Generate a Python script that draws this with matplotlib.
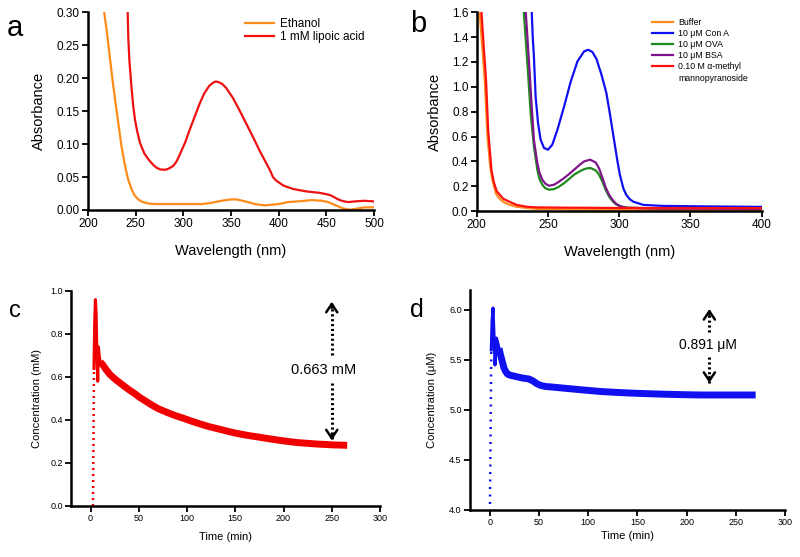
import numpy as np
import matplotlib
matplotlib.use('Agg')
import matplotlib.pyplot as plt
from matplotlib.lines import Line2D

plt.rcParams['font.family'] = ['Liberation Sans', 'DejaVu Sans']

# ---- panel a : UV spectra, ethanol vs lipoic acid
a_eth_nm = [217, 220, 224.8, 228, 231.8, 235, 238.8, 242, 245.8, 249, 252.8, 256, 259.8, 265, 270, 280, 300,
            320, 330, 340, 350, 356, 365, 375, 385, 393, 400, 410, 420, 435, 445, 452, 460, 468, 475, 482,
            490, 500]
a_eth_abs = [0.30, 0.268, 0.208, 0.172, 0.132, 0.098, 0.067, 0.047, 0.031, 0.022, 0.016, 0.013, 0.011, 0.0095,
             0.009, 0.009, 0.009, 0.009, 0.011, 0.014, 0.016, 0.016, 0.013, 0.009, 0.007, 0.008, 0.009, 0.012,
             0.013, 0.015, 0.014, 0.012, 0.007, 0.002, 0.0005, 0.002, 0.004, 0.004]
a_lip_nm = [241.6, 242.3, 243.5, 245.8, 247.5, 249.3, 251.5, 254.5, 259, 263.3, 268, 272, 276, 281, 285,
            289.5, 293, 296, 299, 301.8, 307, 312, 317, 322, 327, 331, 334, 337, 341, 345, 352, 359, 366,
            373, 380, 387, 391, 394, 397, 400, 405, 415, 422, 430, 443, 450, 455, 460, 464, 469, 473, 480,
            490, 500]
a_lip_abs = [0.30, 0.26, 0.225, 0.183, 0.157, 0.137, 0.120, 0.102, 0.086, 0.077, 0.069, 0.064, 0.0615, 0.061,
             0.063, 0.067, 0.074, 0.083, 0.093, 0.102, 0.123, 0.142, 0.161, 0.177, 0.188, 0.193, 0.195, 0.194,
             0.191, 0.185, 0.170, 0.151, 0.131, 0.111, 0.090, 0.071, 0.060, 0.050, 0.045, 0.042, 0.037,
             0.032, 0.030, 0.028, 0.026, 0.024, 0.022, 0.018, 0.015, 0.013, 0.012, 0.013, 0.014, 0.013]

# ---- panel b : protein spectra
b_buf_nm = [202, 204, 205.6, 207.5, 209.5, 211, 213.5, 216, 218.5, 222, 228, 235, 242, 260, 300, 350, 400]
b_buf_abs = [1.6, 1.3, 1.05, 0.60, 0.35, 0.25, 0.14, 0.10, 0.075, 0.055, 0.035, 0.025, 0.018, 0.015, 0.012,
             0.010, 0.010]
b_man_nm = [203.3, 205, 206.5, 208, 210.3, 212, 214, 218.5, 222, 228, 235, 242, 260, 300, 350, 400]
b_man_abs = [1.6, 1.3, 1.05, 0.65, 0.33, 0.23, 0.16, 0.10, 0.08, 0.05, 0.035, 0.03, 0.028, 0.025, 0.024, 0.024]
b_con_nm = [238.6, 239.3, 240.1, 241.3, 243, 244.8, 247.2, 250, 253, 256.6, 261.3, 266, 270.7, 275.4, 278.2,
            281.2, 284, 287.5, 291, 293.5, 296, 298.5, 300.5, 303, 305, 307.5, 310, 317, 330, 360, 400]
b_con_abs = [1.6, 1.40, 1.245, 0.923, 0.709, 0.575, 0.508, 0.494, 0.534, 0.654, 0.842, 1.044, 1.205, 1.286,
             1.298, 1.28, 1.225, 1.10, 0.95, 0.78, 0.60, 0.42, 0.29, 0.18, 0.13, 0.095, 0.075, 0.05, 0.042,
             0.038, 0.034]
b_ova_nm = [233, 236, 237.8, 240.1, 242.5, 244, 246, 248, 250.7, 254.2, 257.5, 261.3, 265, 268.3, 272, 275.4,
            278, 280, 283.6, 286, 288.3, 290.5, 293, 295.5, 297.7, 301, 305.9, 330, 400]
b_ova_abs = [1.6, 1.11, 0.79, 0.52, 0.333, 0.26, 0.212, 0.185, 0.172, 0.177, 0.195, 0.225, 0.26, 0.293, 0.318,
             0.338, 0.345, 0.346, 0.327, 0.29, 0.235, 0.17, 0.115, 0.078, 0.055, 0.038, 0.027, 0.022, 0.02]
b_bsa_nm = [234.4, 237.2, 238.5, 240.1, 242.5, 244, 246, 248, 250.7, 254.2, 257.5, 261.3, 265, 268.3, 272,
            275.4, 279.6, 283.6, 286, 288.3, 290.5, 293, 295.5, 297.7, 301, 305, 330, 400]
b_bsa_abs = [1.6, 1.1, 0.85, 0.574, 0.387, 0.31, 0.253, 0.222, 0.204, 0.212, 0.235, 0.266, 0.30, 0.333, 0.37,
             0.40, 0.414, 0.39, 0.34, 0.265, 0.19, 0.13, 0.088, 0.06, 0.037, 0.027, 0.02, 0.018]

# ---- panel c : lipoic acid concentration vs time
c_rise_t = [2.6, 3.6]
c_rise_c = [0.0, 0.64]
c_spike_t = [3.6, 4.3, 5.1, 5.8, 6.5, 7.5, 8.2, 9.0, 10.0, 11.0]
c_spike_c = [0.64, 0.85, 0.96, 0.90, 0.75, 0.58, 0.74, 0.70, 0.67, 0.66]
c_t = [10, 13, 16, 20, 26, 30, 35, 40, 45.7, 51, 57, 62.6, 70, 80, 88, 97, 105, 114, 122, 131, 140, 149, 157,
       166, 175, 183, 192, 200, 208, 217, 226, 235, 244, 252, 260, 266]
c_c = [0.67, 0.655, 0.635, 0.612, 0.588, 0.574, 0.557, 0.54, 0.523, 0.505, 0.488, 0.472, 0.453, 0.434, 0.42,
       0.407, 0.394, 0.381, 0.37, 0.36, 0.35, 0.34, 0.333, 0.326, 0.32, 0.314, 0.308, 0.303, 0.298, 0.294,
       0.291, 0.288, 0.286, 0.284, 0.283, 0.282]

# ---- panel d : Con A experiment
d_rise_t = [0.3, 1.6]
d_rise_c = [4.06, 5.6]
d_spike_t = [1.6, 2.4, 3.4, 4.2, 5.4, 6.8, 8.0, 9.4]
d_spike_c = [5.6, 5.9, 6.02, 5.8, 5.45, 5.72, 5.68, 5.617]
d_t = [9.4, 11, 12.8, 14.5, 16.2, 18, 20, 26.3, 33, 39.8, 44, 48, 52, 56.7, 65, 78.7, 95, 112.5, 130, 146,
       163, 180, 197, 214, 240, 261, 270]
d_c = [5.617, 5.55, 5.483, 5.42, 5.385, 5.36, 5.35, 5.335, 5.32, 5.31, 5.29, 5.262, 5.245, 5.235, 5.228, 5.215,
       5.2, 5.185, 5.175, 5.168, 5.162, 5.157, 5.153, 5.15, 5.15, 5.15, 5.15]


def style_ax(ax, tick_fs):
    for s in ['top', 'right']:
        ax.spines[s].set_visible(False)
    for s in ['left', 'bottom']:
        ax.spines[s].set_linewidth(1.8)
    ax.tick_params(direction='out', length=4, width=1.3, labelsize=tick_fs, pad=2)


def dotted_arrow(ax, x, y_from, y_to, head_len):
    # dotted shaft + solid open head
    ax.plot([x, x], [y_from, y_to], color='black', lw=2.2, ls=(0, (0.7, 0.9)))
    ax.annotate('', xy=(x, y_to), xytext=(x, y_to - np.sign(y_to - y_from) * head_len),
                arrowprops=dict(arrowstyle='->,head_length=0.6,head_width=0.4', color='black', lw=1.8,
                                shrinkA=0, shrinkB=0))


fig = plt.figure(figsize=(8, 5.57), dpi=100)

# panel a
ax = fig.add_axes([0.110, 0.623, 0.3575, 0.355])
ax.plot(a_eth_nm, a_eth_abs, color='#FF8C1A', lw=1.6, label='Ethanol')
ax.plot(a_lip_nm, a_lip_abs, color='#EE1111', lw=1.6, label='1 mM lipoic acid')
ax.set_xlim(200, 500)
ax.set_ylim(0, 0.30)
ax.set_xticks(np.arange(200, 501, 50))
ax.set_yticks(np.arange(0, 0.301, 0.05))
ax.yaxis.set_major_formatter(matplotlib.ticker.FormatStrFormatter('%.2f'))
style_ax(ax, 8.5)
ax.set_xlabel('Wavelength (nm)', fontsize=10.5, labelpad=10)
ax.set_ylabel('Absorbance', fontsize=10.5, labelpad=7.5)
ax.legend(loc='upper left', bbox_to_anchor=(0.53, 1.0), frameon=False, fontsize=8.5,
          handlelength=2.4, handletextpad=0.5, labelspacing=0.1, borderpad=0)

# panel b
ax = fig.add_axes([0.596, 0.621, 0.356, 0.357])
ax.plot(b_buf_nm, b_buf_abs, color='#FF8C1A', lw=1.6, label='Buffer')
ax.plot(b_con_nm, b_con_abs, color='#1010F0', lw=1.6, label='10 \u03bcM Con A')
ax.plot(b_ova_nm, b_ova_abs, color='#1E8A1E', lw=1.6, label='10 \u03bcM OVA')
ax.plot(b_bsa_nm, b_bsa_abs, color='#80148C', lw=1.6, label='10 \u03bcM BSA')
ax.plot(b_man_nm, b_man_abs, color='#FF1010', lw=1.6, label='0.10 M \u03b1-methyl')
h, l = ax.get_legend_handles_labels()
h.append(Line2D([], [], color='none'))
l.append('mannopyranoside')
ax.set_xlim(200, 400)
ax.set_ylim(0, 1.6)
ax.set_xticks(np.arange(200, 401, 50))
ax.set_yticks(np.arange(0, 1.61, 0.2))
ax.yaxis.set_major_formatter(matplotlib.ticker.FormatStrFormatter('%.1f'))
style_ax(ax, 8.5)
ax.set_xlabel('Wavelength (nm)', fontsize=10.5, labelpad=10)
ax.set_ylabel('Absorbance', fontsize=10.5, labelpad=7.5)
ax.legend(h, l, loc='upper left', bbox_to_anchor=(0.60, 0.995), frameon=False, fontsize=6.3,
          handlelength=2.4, handletextpad=0.6, labelspacing=0.25, borderpad=0)

# panel c
ax = fig.add_axes([0.089, 0.0916, 0.386, 0.386])
ax.plot(c_rise_t, c_rise_c, color='#F00000', lw=1.8, ls=(0, (0.8, 1.6)))
ax.plot(c_spike_t, c_spike_c, color='#F00000', lw=2.2)
ax.plot(c_t, c_c, color='#F00000', lw=5, solid_capstyle='butt', solid_joinstyle='round')
dotted_arrow(ax, 250, 0.70, 0.95, 0.03)
dotted_arrow(ax, 250, 0.57, 0.305, 0.03)
ax.text(242, 0.632, '0.663 mM', fontsize=10.5, ha='center', va='center')
ax.set_xlim(-20, 300)
ax.set_ylim(0, 1.0)
ax.set_xticks(np.arange(0, 301, 50))
ax.set_yticks(np.arange(0, 1.01, 0.2))
ax.yaxis.set_major_formatter(matplotlib.ticker.FormatStrFormatter('%.1f'))
style_ax(ax, 6.5)
ax.set_xlabel('Time (min)', fontsize=8, labelpad=6)
ax.set_ylabel('Concentration (mM)', fontsize=8, labelpad=6)

# panel d
ax = fig.add_axes([0.5875, 0.0844, 0.394, 0.395])
ax.plot(d_rise_t, d_rise_c, color='#1010F0', lw=1.8, ls=(0, (0.8, 2.2)))
ax.plot(d_spike_t, d_spike_c, color='#1010F0', lw=2.2)
ax.plot(d_t, d_c, color='#1010F0', lw=5, solid_capstyle='butt', solid_joinstyle='round')
dotted_arrow(ax, 223, 5.78, 6.01, 0.06)
dotted_arrow(ax, 223, 5.53, 5.27, 0.06)
ax.text(222, 5.65, '0.891 \u03bcM', fontsize=10, ha='center', va='center')
ax.set_xlim(-20, 300)
ax.set_ylim(4.0, 6.2)
ax.set_xticks(np.arange(0, 301, 50))
ax.set_yticks(np.arange(4.0, 6.01, 0.5))
ax.yaxis.set_major_formatter(matplotlib.ticker.FormatStrFormatter('%.1f'))
style_ax(ax, 6.5)
ax.set_xlabel('Time (min)', fontsize=8, labelpad=3)
ax.set_ylabel('Concentration (\u03bcM)', fontsize=8, labelpad=8.5)

# panel letters
fig.text(0.019, 0.950, 'a', fontsize=21, ha='center', va='center')
fig.text(0.523, 0.957, 'b', fontsize=21, ha='center', va='center')
fig.text(0.019, 0.442, 'c', fontsize=17, ha='center', va='center')
fig.text(0.521, 0.444, 'd', fontsize=18, ha='center', va='center')

fig.savefig('out.png', dpi=100)
